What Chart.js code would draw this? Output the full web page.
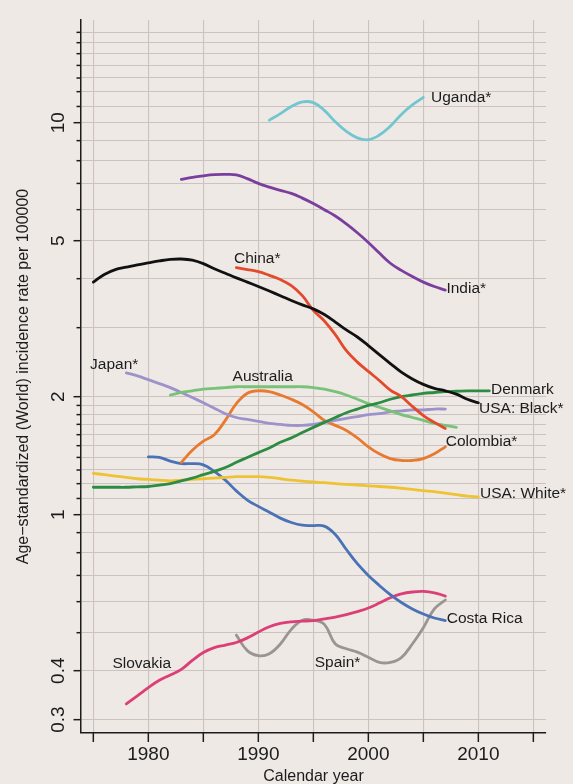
<!DOCTYPE html>
<html>
<head>
<meta charset="utf-8">
<script src="https://cdn.jsdelivr.net/npm/chart.js@4.4.0/dist/chart.umd.min.js"></script>
<style>
  html, body { margin: 0; padding: 0; background: #efe9e6; }
  #wrap { width: 573px; height: 784px; position: relative; }
</style>
</head>
<body>
<div id="wrap"><canvas id="chart"></canvas></div>
<script>
const _ = null;

// Calendar years shared by every series (null = no estimate for that year)
const years = [1975, 1976, 1977, 1978, 1979, 1980, 1981, 1982, 1983, 1984,
               1985, 1986, 1987, 1988, 1989, 1990, 1991, 1992, 1993, 1994,
               1995, 1996, 1997, 1998, 1999, 2000, 2001, 2002, 2003, 2004,
               2005, 2006, 2007, 2008, 2009, 2010, 2011];

// Age-standardized incidence rates per 100000
const uganda = [_, _, _, _, _, _, _, _, _, _, _, _, _, _, _, _,
  10.15, 10.55, 11.0, 11.3, 11.25, 10.75, 10.05, 9.5, 9.15, 9.05, 9.3, 9.8, 10.5, 11.1, 11.6,
  _, _, _, _, _, _];
const india = [_, _, _, _, _, _, _, _,
  7.17, 7.25, 7.32, 7.37, 7.38, 7.36, 7.2, 7.0, 6.85, 6.72, 6.6, 6.42, 6.22, 6.0, 5.78,
  5.52, 5.24, 4.95, 4.65, 4.38, 4.2, 4.05, 3.92, 3.82, 3.74,
  _, _, _, _];
const usaBlack = [3.92, 4.1, 4.22, 4.28, 4.34, 4.39, 4.44, 4.48, 4.49, 4.46, 4.37, 4.24,
  4.13, 4.02, 3.92, 3.82, 3.72, 3.62, 3.52, 3.43, 3.35, 3.24, 3.1, 2.96, 2.84, 2.7, 2.56,
  2.43, 2.31, 2.22, 2.15, 2.1, 2.07, 2.03, 1.97, 1.93,
  _];
const china = [_, _, _, _, _, _, _, _, _, _, _, _, _,
  4.27, 4.22, 4.17, 4.08, 3.98, 3.84, 3.62, 3.32, 3.12, 2.88, 2.62, 2.45, 2.32, 2.2, 2.08,
  2.0, 1.89, 1.79, 1.72, 1.66,
  _, _, _, _];
const japan = [_, _, _,
  2.30, 2.26, 2.21, 2.16, 2.11, 2.05, 1.99, 1.93, 1.87, 1.81, 1.77, 1.75, 1.73, 1.71, 1.70,
  1.69, 1.69, 1.70, 1.72, 1.74, 1.76, 1.78, 1.80, 1.81, 1.83, 1.84, 1.85, 1.85, 1.86, 1.86,
  _, _, _, _];
const australia = [_, _, _, _, _, _, _,
  2.02, 2.05, 2.07, 2.09, 2.10, 2.11, 2.12, 2.12, 2.12, 2.12, 2.12, 2.12, 2.12, 2.11, 2.09,
  2.06, 2.02, 1.97, 1.92, 1.88, 1.84, 1.80, 1.77, 1.74, 1.71, 1.69, 1.67,
  _, _, _];
const denmark = [1.175, 1.175, 1.175, 1.175, 1.178, 1.18, 1.19, 1.20, 1.22, 1.24, 1.265,
  1.29, 1.32, 1.36, 1.40, 1.44, 1.48, 1.53, 1.57, 1.62, 1.67, 1.72, 1.77, 1.82, 1.86, 1.90,
  1.93, 1.97, 2.00, 2.02, 2.04, 2.05, 2.06, 2.065, 2.07, 2.07, 2.07];
const colombia = [_, _, _, _, _, _, _, _,
  1.36, 1.46, 1.54, 1.60, 1.74, 1.92, 2.04, 2.07, 2.06, 2.02, 1.97, 1.91, 1.83, 1.74, 1.69,
  1.64, 1.57, 1.49, 1.43, 1.39, 1.375, 1.375, 1.39, 1.43, 1.49,
  _, _, _, _];
const usaWhite = [1.275, 1.265, 1.255, 1.245, 1.235, 1.23, 1.225, 1.22, 1.225, 1.23, 1.235,
  1.24, 1.245, 1.25, 1.25, 1.25, 1.245, 1.235, 1.225, 1.218, 1.212, 1.207, 1.2, 1.195, 1.19,
  1.185, 1.18, 1.175, 1.168, 1.16, 1.152, 1.145, 1.135, 1.125, 1.115, 1.11,
  _];
const costaRica = [_, _, _, _, _,
  1.405, 1.40, 1.37, 1.35, 1.35, 1.34, 1.29, 1.225, 1.15, 1.09, 1.05, 1.015, 0.98, 0.955,
  0.94, 0.938, 0.935, 0.89, 0.815, 0.75, 0.70, 0.66, 0.625, 0.597, 0.575, 0.558, 0.545, 0.537,
  _, _, _, _];
const slovakia = [_, _, _,
  0.329, 0.345, 0.362, 0.378, 0.39, 0.403, 0.425, 0.445, 0.458, 0.465, 0.472, 0.485, 0.502,
  0.518, 0.528, 0.533, 0.535, 0.537, 0.542, 0.548, 0.556, 0.566, 0.578, 0.595, 0.614, 0.628,
  0.635, 0.637, 0.632, 0.62,
  _, _, _, _];
const spain = [_, _, _, _, _, _, _, _, _, _, _, _, _,
  0.493, 0.45, 0.437, 0.442, 0.468, 0.51, 0.538, 0.538, 0.525, 0.468, 0.455, 0.446, 0.433,
  0.42, 0.42, 0.432, 0.468, 0.515, 0.575, 0.606,
  _, _, _, _];

// Axis ticks and which of them carry a label
const xTickValues = [1975, 1980, 1985, 1990, 1995, 2000, 2005, 2010, 2015];
const xTickLabels = [1980, 1990, 2000, 2010];
const yTickValues = [0.3, 0.4, 0.5, 0.6, 0.7, 0.8, 0.9, 1, 1.1, 1.2, 1.3, 1.4, 1.5, 1.6,
  1.7, 1.8, 1.9, 2, 3, 4, 5, 6, 7, 8, 9, 10, 11, 12, 13, 14, 15, 16, 17];
const yTickLabels = [0.3, 0.4, 1, 2, 5, 10];

// Series names written next to the curves: [text, year, rate, alignment]
const seriesLabels = [
  ['Uganda*', 2005.7, 11.6, 'left'],
  ['India*', 2007.1, 3.78, 'left'],
  ['China*', 1989.9, 4.49, 'center'],
  ['Japan*', 1976.9, 2.42, 'center'],
  ['Australia', 1990.4, 2.25, 'center'],
  ['Denmark', 2011.15, 2.08, 'left'],
  ['USA: Black*', 2010.06, 1.86, 'left'],
  ['Colombia*', 2007.04, 1.535, 'left'],
  ['USA: White*', 2010.15, 1.134, 'left'],
  ['Costa Rica', 2007.13, 0.544, 'left'],
  ['Slovakia', 1979.4, 0.416, 'center'],
  ['Spain*', 1997.2, 0.42, 'center']
];

const FONT = '"Liberation Sans", Arial, Helvetica, sans-serif';
const INK = '#1c1c1c';
const PAPER = '#efe9e6';
const GRID = '#cbc3c0';

const seriesDefs = [
  ['USA: Black*', usaBlack, '#111111'],
  ['India*', india, '#7a3f9d'],
  ['Uganda*', uganda, '#72c6cf'],
  ['China*', china, '#e34a2b'],
  ['Denmark', denmark, '#2c8c42'],
  ['Australia', australia, '#78c279'],
  ['Japan*', japan, '#9d93c9'],
  ['Colombia*', colombia, '#e77a2e'],
  ['USA: White*', usaWhite, '#efc233'],
  ['Costa Rica', costaRica, '#4a72b5'],
  ['Slovakia', slovakia, '#dc3f78'],
  ['Spain*', spain, '#9a9592']
];

const datasets = seriesDefs.map(([name, values, color]) => ({
  label: name,
  data: years.map((yr, i) => ({ x: yr, y: values[i] })).filter(p => p.y !== null),
  borderColor: color,
  borderWidth: 2.8,
  pointRadius: 0,
  fill: false,
  tension: 0.4,
  borderCapStyle: 'round',
  borderJoinStyle: 'round'
}));

// Paper background, tick marks, tick labels, axis titles and curve names
const decorations = {
  id: 'decorations',
  beforeDraw(chart) {
    const { ctx, width, height } = chart;
    ctx.save();
    ctx.fillStyle = PAPER;
    ctx.fillRect(0, 0, width, height);
    ctx.restore();
  },
  afterDraw(chart) {
    const { ctx, chartArea, scales: { x, y } } = chart;
    const left = chartArea.left, bottom = chartArea.bottom;
    ctx.save();
    ctx.strokeStyle = INK;
    ctx.fillStyle = INK;
    ctx.lineWidth = 1.5;

    // y tick marks and rotated labels
    yTickValues.forEach(v => {
      const py = y.getPixelForValue(v);
      const major = yTickLabels.includes(v);
      ctx.beginPath();
      ctx.moveTo(left - (major ? 7.5 : 4.5), py);
      ctx.lineTo(left, py);
      ctx.stroke();
      if (major) {
        ctx.save();
        ctx.translate(left - 17, py);
        ctx.rotate(-Math.PI / 2);
        ctx.font = '19px ' + FONT;
        ctx.textAlign = 'center';
        ctx.textBaseline = 'alphabetic';
        ctx.fillText(String(v), 0, 0);
        ctx.restore();
      }
    });

    // x tick marks and labels
    xTickValues.forEach(v => {
      const px = x.getPixelForValue(v);
      ctx.beginPath();
      ctx.moveTo(px, bottom);
      ctx.lineTo(px, bottom + 9);
      ctx.stroke();
      if (xTickLabels.includes(v)) {
        ctx.font = '19px ' + FONT;
        ctx.textAlign = 'center';
        ctx.textBaseline = 'alphabetic';
        ctx.fillText(String(v), px, bottom + 26.5);
      }
    });

    // axis titles
    ctx.font = '16px ' + FONT;
    ctx.textAlign = 'center';
    ctx.textBaseline = 'alphabetic';
    ctx.fillText('Calendar year', (chartArea.left + chartArea.right) / 2, bottom + 48);
    ctx.save();
    ctx.translate(28, (chartArea.top + chartArea.bottom) / 2);
    ctx.rotate(-Math.PI / 2);
    ctx.fillText('Age\u2212standardized (World) incidence rate per 100000', 0, 0);
    ctx.restore();

    // curve names
    ctx.font = '15.5px ' + FONT;
    ctx.textBaseline = 'middle';
    seriesLabels.forEach(([text, yr, rate, align]) => {
      ctx.textAlign = align;
      ctx.fillText(text, x.getPixelForValue(yr), y.getPixelForValue(rate));
    });
    ctx.restore();
  }
};

new Chart(document.getElementById('chart'), {
  type: 'line',
  data: { datasets },
  options: {
    responsive: true,
    maintainAspectRatio: false,
    devicePixelRatio: 1,
    animation: false,
    layout: { padding: { top: 20, right: 27, bottom: 0, left: 0 } },
    plugins: { legend: { display: false }, tooltip: { enabled: false } },
    scales: {
      x: {
        type: 'linear',
        min: 1973.88,
        max: 2016.15,
        afterBuildTicks: scale => { scale.ticks = xTickValues.map(v => ({ value: v })); },
        afterFit: scale => { scale.height = 51; },
        ticks: { display: false },
        grid: { color: GRID, lineWidth: 1.1, drawTicks: false },
        border: { display: true, color: INK, width: 1.5 }
      },
      y: {
        type: 'logarithmic',
        min: 0.2774,
        max: 18.28,
        afterBuildTicks: scale => { scale.ticks = yTickValues.map(v => ({ value: v })); },
        afterFit: scale => { scale.width = 81; },
        ticks: { display: false },
        grid: { color: GRID, lineWidth: 1.1, drawTicks: false },
        border: { display: true, color: INK, width: 1.5 }
      }
    }
  },
  plugins: [decorations]
});
</script>
</body>
</html>
